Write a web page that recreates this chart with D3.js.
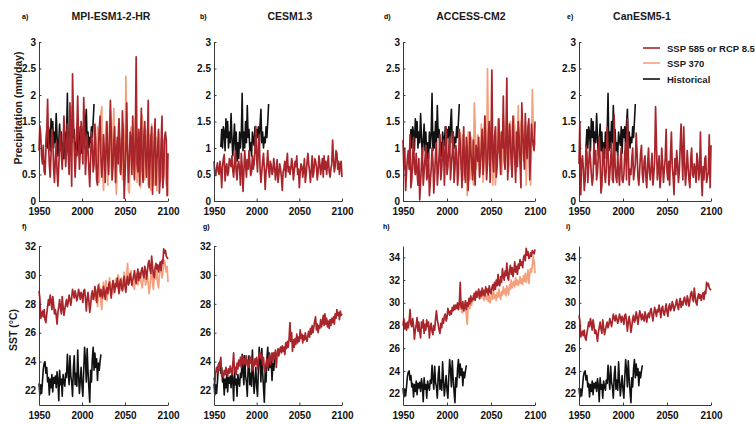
<!DOCTYPE html>
<html>
<head>
<meta charset="utf-8">
<script src="https://cdn.jsdelivr.net/npm/d3@7"></script>
<style>
  body { margin: 0; background: #fff; }
  svg { font-family: "Liberation Sans", Arial, sans-serif; }
  .axis path, .axis line { stroke: #3a3a3a; }
  .axis text { font-size: 10px; font-weight: bold; fill: #111; }
</style>
</head>
<body>
<div id="chart"></div>
<script>
'use strict';

// ---------- DATA ----------
var years = [1950, 2100];
var xTicks = [1950, 2000, 2050, 2100];
var precipTicks = [0, 0.5, 1, 1.5, 2, 2.5, 3];
var sstTicksLow = [22, 24, 26, 28, 30, 32];
var sstTicksHigh = [22, 24, 26, 28, 30, 32, 34];

var models = ['MPI-ESM1-2-HR', 'CESM1.3', 'ACCESS-CM2', 'CanESM5-1'];
var topLetters = ['a)', 'b)', 'd)', 'e)'];
var bottomLetters = ['f)', 'g)', 'h)', 'i)'];
var legendLabels = ['SSP 585 or RCP 8.5', 'SSP 370', 'Historical'];

// observed precipitation, 1958-2014
var precipObsStart = 1958;
var precipObs = [
  1.02,1.35,1.00,1.40,1.30,0.95,1.55,1.20,1.50,1.00,
  1.30,1.10,1.65,1.20,0.85,1.15,1.45,0.95,1.30,0.75,
  1.10,0.80,1.30,1.00,1.25,2.03,0.95,1.30,1.00,1.50,
  1.10,1.80,1.20,1.35,0.95,1.10,0.85,1.30,1.15,1.05,
  1.40,0.90,1.35,1.20,1.40,1.00,1.45,1.73,1.10,1.30,
  1.00,1.20,1.10,1.40,1.20,1.50,1.83
];

// observed SST, 1950-2022
var sstObsStart = 1950;
var sstObs = [
  22.5,21.7,22.4,21.8,22.6,23.5,23.9,24.0,23.2,23.6,
  22.6,22.9,21.7,22.8,22.2,23.1,21.9,22.9,22.5,23.0,
  22.2,23.3,22.7,21.3,23.4,22.4,22.8,21.6,23.1,22.6,
  22.3,23.2,22.9,24.5,23.3,22.4,24.4,23.0,22.6,21.6,
  23.6,24.4,22.4,23.2,22.3,24.8,23.1,21.8,22.7,23.6,
  22.3,21.6,23.4,25.0,24.1,22.6,24.9,23.3,22.2,21.2,
  23.4,22.6,24.2,25.0,23.4,24.6,23.6,24.2,22.7,23.9,
  23.4,24.0,24.5
];

// model runs: high emission 1950-2100, SSP370 2015-2100
var runStart = 1950;
var sspStart = 2015;

var precipMpi85 = [
  0.95,1.42,1.25,0.85,0.70,1.05,0.55,0.50,0.95,1.30,
  1.92,1.10,0.70,0.45,0.90,1.35,1.20,0.60,0.35,0.80,
  1.10,0.55,0.28,0.65,1.15,1.30,0.85,0.60,1.05,1.60,
  1.20,0.65,0.95,1.45,0.90,0.50,1.85,1.10,0.28,2.40,
  1.60,0.95,0.45,0.85,1.35,1.98,1.10,0.60,0.95,1.50,
  1.20,0.70,1.95,1.40,0.50,0.85,1.25,0.95,0.60,0.27,
  0.80,1.30,1.10,0.55,0.70,1.45,1.05,0.40,0.30,0.90,
  1.35,1.60,0.85,0.45,0.70,1.25,0.90,0.35,1.00,1.50,
  0.80,0.50,1.10,1.90,1.30,0.40,0.65,1.15,1.40,0.35,
  0.90,1.20,0.70,1.55,1.10,0.50,0.80,1.70,1.25,0.05,
  0.45,1.00,1.85,0.95,0.35,0.75,1.30,1.15,0.50,1.60,
  0.85,0.40,1.20,2.72,0.70,0.55,1.35,0.30,1.10,1.75,
  0.60,0.35,1.25,1.50,0.80,0.45,1.05,1.90,0.25,0.70,
  1.15,1.40,0.13,0.60,1.20,1.55,0.30,0.75,1.00,1.35,
  0.15,0.45,1.10,1.60,0.25,0.50,1.20,1.30,1.15,0.10,
  0.90
];
var precipMpi370 = [
  1.10,0.60,0.85,1.40,1.20,0.35,0.75,1.65,1.78,0.50,
  0.20,0.70,1.05,1.50,1.20,0.30,0.85,1.45,1.70,0.60,
  0.40,1.30,1.75,1.00,0.45,0.12,0.80,1.35,1.55,0.55,
  0.90,1.20,0.40,1.45,1.10,0.50,2.35,1.30,0.70,0.20,
  0.15,1.05,1.40,0.60,1.25,0.80,0.45,1.55,1.00,0.35,
  0.55,1.30,1.15,0.25,1.50,1.62,1.20,0.70,0.40,1.35,
  1.10,0.65,0.30,0.80,1.25,0.20,1.45,1.05,0.55,0.30,
  0.95,1.20,0.20,0.60,1.30,1.10,0.35,0.50,0.85,0.25,
  1.15,0.95,0.45,0.30,0.80,0.10
];
var precipCesm85 = [
  0.75,0.50,0.48,0.62,0.72,0.55,0.50,0.75,0.60,0.25,
  0.65,0.80,0.88,0.38,0.62,0.70,0.48,0.55,0.80,0.75,
  0.65,0.85,0.58,0.45,0.70,0.95,0.55,0.40,0.68,0.75,
  0.60,0.30,0.90,0.65,0.18,0.55,0.95,0.70,0.45,0.78,
  0.60,0.95,0.72,0.48,0.55,0.85,0.60,0.70,1.00,1.41,
  0.80,0.55,1.05,1.25,0.60,0.35,0.55,0.75,0.90,0.60,
  0.22,0.55,0.70,0.95,0.60,0.45,0.75,0.68,0.50,0.55,
  0.80,0.65,0.40,0.55,0.78,0.35,0.50,0.70,0.60,0.45,
  0.20,0.55,0.62,0.75,0.45,0.70,0.90,0.55,0.65,0.50,
  0.60,0.80,0.70,0.40,0.55,0.75,0.65,0.85,0.50,0.60,
  0.25,0.55,0.70,0.65,0.45,0.60,0.80,0.35,0.50,0.72,
  0.90,0.70,0.55,0.35,0.60,0.85,0.45,0.55,0.80,0.75,
  0.65,0.40,0.55,0.85,0.70,0.50,0.65,0.80,0.45,0.85,
  0.60,0.75,0.50,0.70,0.85,0.55,0.45,0.60,0.70,1.15,
  0.80,0.55,0.65,0.95,0.90,0.60,0.75,0.50,0.70,0.75,
  0.45
];
var precipAccess85 = [
  1.15,0.60,1.00,0.20,0.55,0.80,0.95,0.60,1.25,0.25,
  0.40,0.80,1.20,0.60,0.50,0.90,0.55,0.30,0.80,0.02,
  0.35,0.70,1.00,0.30,0.55,0.80,1.05,0.40,0.50,0.90,
  0.10,0.35,0.60,1.00,0.75,0.15,0.50,0.90,1.10,0.30,
  0.55,0.85,1.25,0.40,0.60,0.95,1.15,0.30,0.80,1.40,
  0.50,0.65,1.00,1.20,0.40,0.70,0.90,1.30,0.35,0.60,
  1.05,0.90,0.30,0.50,1.35,1.10,0.70,0.25,0.95,1.40,
  0.55,0.35,1.20,1.00,0.20,0.60,1.30,0.95,0.70,0.40,
  1.15,0.60,0.30,1.05,0.95,0.75,1.20,0.45,0.70,1.00,
  1.35,0.50,0.85,1.60,1.10,0.40,0.70,1.25,1.50,0.35,
  1.05,2.47,0.80,0.55,1.20,1.40,0.45,0.65,1.10,1.55,
  0.85,0.50,1.30,1.00,1.98,0.75,0.60,1.25,2.32,0.40,
  0.90,1.45,1.20,0.70,0.45,1.60,1.10,0.80,0.35,1.30,
  0.65,1.50,1.20,0.75,0.25,1.85,1.35,0.95,0.60,1.65,
  1.10,0.80,1.40,1.55,0.40,0.90,1.45,1.20,1.05,0.95,
  1.50
];
var precipAccess370 = [
  1.30,0.60,1.10,1.25,0.40,0.70,1.00,0.85,0.10,1.30,
  1.10,0.40,0.65,1.20,0.95,0.30,1.85,1.40,0.60,0.75,
  1.25,1.05,0.50,0.80,1.45,1.20,0.35,0.70,1.60,1.10,
  0.55,2.50,1.35,0.80,0.55,1.20,1.45,0.30,0.65,1.05,
  0.30,0.70,1.25,1.55,0.90,1.30,1.15,0.50,0.85,1.60,
  1.35,0.60,0.95,1.70,1.25,0.55,0.80,1.50,1.30,0.45,
  0.90,1.60,1.40,0.70,0.55,1.25,1.80,0.85,0.65,1.45,
  1.55,0.95,0.75,1.35,1.50,0.30,0.90,1.25,1.45,0.60,
  0.30,1.00,2.10,1.40,1.20,1.05
];
var precipCan85 = [
  0.70,1.50,0.12,0.70,0.85,0.60,0.20,0.40,1.05,0.90,
  0.35,0.65,1.00,0.80,0.50,0.30,0.45,1.10,0.70,0.95,
  0.40,0.55,0.85,1.20,0.75,0.15,0.30,0.90,1.00,0.55,
  0.35,0.60,1.40,0.95,0.30,0.50,0.80,1.10,0.40,0.35,
  1.62,0.70,0.45,0.35,0.90,0.55,0.30,0.75,1.00,0.40,
  0.35,0.50,0.90,1.10,0.40,1.55,0.95,0.30,0.60,0.50,
  0.80,1.00,0.40,0.55,0.70,1.28,0.90,0.45,0.30,0.60,
  0.90,1.05,0.50,0.35,0.75,0.85,0.45,0.25,0.70,1.00,
  0.55,0.40,0.65,0.90,0.30,0.50,0.75,1.78,1.10,0.40,
  0.60,0.85,0.25,0.45,1.00,0.70,0.35,0.60,0.80,1.35,
  0.55,0.40,0.75,0.30,0.90,1.30,0.65,0.45,0.12,0.80,
  0.50,0.95,0.70,0.35,0.55,1.05,1.45,0.85,0.40,1.40,
  0.75,0.30,0.55,0.95,0.65,0.40,0.25,0.80,1.00,0.50,
  0.45,0.70,0.60,0.35,0.90,0.75,0.40,0.55,1.30,0.50,
  0.10,0.65,0.40,0.80,0.85,0.35,0.45,0.55,1.25,0.25,
  1.05
];

var sstMpi85 = [
  28.9,28.4,27.0,27.2,27.5,27.1,27.6,26.9,26.7,27.3,
  27.8,28.3,27.9,28.6,28.2,27.6,28.5,28.0,27.3,27.6,
  27.2,26.6,27.4,27.8,28.3,27.7,27.3,28.5,27.8,27.2,
  27.6,28.0,28.3,27.8,28.1,28.6,28.3,27.9,28.4,29.0,
  28.7,28.4,28.9,28.6,28.2,28.5,29.0,28.7,28.3,28.8,
  28.6,28.1,28.9,29.0,28.4,27.5,28.3,28.8,28.2,27.4,
  27.9,28.6,28.9,28.3,28.5,29.2,28.8,28.1,28.7,29.3,
  28.9,28.5,29.0,28.6,28.4,29.2,28.8,28.3,28.9,29.1,
  28.7,29.3,29.5,28.9,28.4,29.1,29.6,29.2,28.8,29.4,
  29.2,29.8,29.3,28.7,29.5,29.7,29.1,28.9,29.4,29.9,
  29.2,28.8,29.6,29.9,29.3,29.5,30.1,29.8,29.3,29.6,
  29.9,30.3,29.7,29.4,30.0,30.4,29.6,30.1,29.8,30.3,
  30.5,30.0,29.8,30.6,30.3,29.7,30.2,30.8,31.0,30.4,
  30.1,31.3,30.6,30.0,29.8,30.5,30.8,30.4,30.7,30.2,
  30.6,30.9,30.3,31.0,30.8,31.8,31.5,31.7,31.3,31.2,
  31.1
];
var sstMpi370 = [
  28.2,29.0,28.6,27.8,28.4,29.4,28.9,28.1,27.6,28.9,
  29.5,28.7,29.0,29.6,28.2,28.7,29.2,29.8,28.9,28.6,
  29.3,29.5,28.7,29.0,29.7,29.4,29.1,30.0,29.6,28.9,
  29.2,29.8,29.3,29.0,30.2,29.5,29.1,30.0,30.8,29.6,
  29.4,29.9,30.3,29.7,29.2,29.4,29.0,29.8,30.1,29.5,
  29.3,29.7,30.2,29.9,29.4,29.1,29.6,30.0,29.8,29.3,
  29.6,30.1,29.4,28.7,29.2,29.9,30.3,29.5,29.0,29.8,
  30.2,29.7,30.4,29.4,29.1,30.0,30.6,30.3,29.8,30.1,
  30.8,31.0,30.5,30.2,30.6,29.5
];
var sstCesm85 = [
  22.9,22.5,23.2,23.6,23.3,23.8,23.4,23.9,24.3,23.0,
  23.2,22.9,23.4,23.1,23.6,23.3,23.0,23.5,23.2,23.7,
  23.4,23.1,23.8,24.6,23.3,23.6,23.1,23.9,23.5,24.1,
  23.7,24.3,23.6,24.0,24.4,23.8,24.2,23.9,24.4,23.7,
  24.1,23.6,24.3,23.9,24.4,23.4,24.0,23.7,24.2,23.8,
  24.3,23.5,24.0,24.5,24.6,24.2,24.5,23.8,24.3,23.5,
  23.3,23.9,24.2,23.6,24.1,24.5,23.8,24.2,24.6,24.0,
  24.6,24.2,24.8,23.6,24.5,24.9,24.4,24.8,25.0,24.6,
  25.1,24.7,25.0,24.5,25.3,24.9,25.4,25.0,25.6,26.7,
  25.4,26.0,24.7,25.5,25.0,25.6,25.2,25.9,25.3,25.7,
  25.4,26.2,25.6,25.9,25.3,25.8,25.5,26.0,25.6,25.4,
  25.8,26.1,25.7,26.3,25.9,26.5,26.0,26.4,26.8,27.1,
  26.2,26.6,26.0,26.5,26.3,26.9,26.4,26.7,27.2,26.5,
  27.3,26.6,27.0,26.4,26.8,26.3,26.9,26.5,27.0,26.7,
  27.1,26.6,27.3,27.0,27.6,27.2,27.4,26.9,27.5,27.2,
  27.3
];
var sstAccess85 = [
  28.0,28.6,27.7,28.2,27.6,28.3,27.8,28.4,29.4,28.1,
  27.9,28.6,28.0,26.8,27.6,28.0,28.7,27.5,28.3,27.4,
  26.9,28.3,27.8,28.5,27.3,28.1,27.6,28.5,27.9,28.3,
  26.9,27.8,28.2,27.5,27.2,28.0,27.6,28.6,29.3,28.5,
  28.1,27.6,27.3,28.2,27.8,28.6,28.2,28.8,29.0,28.4,
  28.7,29.5,29.2,28.9,29.3,29.0,29.6,29.3,29.8,29.4,
  29.8,29.5,30.0,29.4,29.9,31.8,29.6,29.5,30.1,29.3,
  29.6,30.2,29.4,30.0,29.7,30.4,29.9,30.6,30.1,30.4,
  30.3,30.8,30.2,31.0,30.5,30.8,31.2,30.4,31.0,30.6,
  31.3,30.7,31.1,30.6,31.4,30.9,31.2,30.7,31.5,31.0,
  30.8,31.3,31.6,31.1,31.8,31.2,32.0,31.5,32.5,31.6,
  31.5,32.3,31.8,33.0,32.4,32.0,32.8,32.4,33.5,32.2,
  32.0,32.9,33.3,32.5,33.1,32.3,32.8,33.6,32.7,33.2,
  32.5,33.4,33.0,33.8,33.3,33.6,33.1,34.0,34.2,33.7,
  34.8,34.2,34.5,33.9,34.0,34.4,34.1,34.6,34.5,34.3,
  34.7
];
var sstAccess370 = [
  29.4,29.8,29.1,29.6,29.2,29.9,30.1,28.8,28.1,29.6,
  30.0,29.5,30.3,29.8,30.6,30.2,30.9,30.4,30.7,31.0,
  30.5,30.8,30.3,30.9,30.4,31.1,30.6,30.2,30.8,30.5,
  30.3,30.8,30.1,30.6,30.0,30.5,30.9,30.3,31.0,30.4,
  30.7,30.2,30.9,30.5,31.2,30.6,30.3,31.0,30.7,31.4,
  30.8,31.2,30.6,31.5,31.0,30.7,31.6,31.2,32.0,31.3,
  31.7,31.9,31.4,32.2,31.6,32.0,31.5,31.8,32.3,31.7,
  32.1,31.6,32.4,31.9,32.6,31.8,32.3,32.9,31.7,32.5,
  33.0,32.7,33.3,34.1,33.6,32.6
];
// CanESM5-1 SST run reads the same as the MPI one in the figure
var sstCan85 = sstMpi85;

// ---------- PANEL SETUP ----------
var colors = { ssp585: '#a8262b', ssp370: '#f4a07c', hist: '#111111' };

var colX = [[39, 168], [214, 342], [403, 535], [579, 711]];
var titleX = [111, 290, 471, 642];
var topLetterX = [22, 200, 384, 567];
var bottomLetterX = [22, 203, 383, 566];

var topPanels = [
  { r85: precipMpi85, r370: precipMpi370 },
  { r85: precipCesm85, r370: null },
  { r85: precipAccess85, r370: precipAccess370 },
  { r85: precipCan85, r370: null }
];
var bottomPanels = [
  { r85: sstMpi85, r370: sstMpi370, dom: [21, 32], ticks: sstTicksLow },
  { r85: sstCesm85, r370: null, dom: [21, 32], ticks: sstTicksLow },
  { r85: sstAccess85, r370: sstAccess370, dom: [21, 35], ticks: sstTicksHigh },
  { r85: sstCan85, r370: null, dom: [21, 35], ticks: sstTicksHigh }
];

var svg = d3.select('#chart').append('svg')
  .attr('width', 756)
  .attr('height', 424);

function toPoints(values, start) {
  return values.map(function(v, i){ return { year: start + i, v: v }; });
}

function drawPanel(col, top, bottom, domain, ticks, tickFmt, series) {
  var x = d3.scaleLinear().domain(years).range(colX[col]);
  var y = d3.scaleLinear().domain(domain).range([bottom, top]);
  var g = svg.append('g');

  var line = d3.line()
    .x(function(d){ return x(d.year); })
    .y(function(d){ return y(d.v); });

  series.forEach(function(s){
    if (!s.values) return;
    g.append('path')
      .datum(toPoints(s.values, s.start))
      .attr('fill', 'none')
      .attr('stroke', s.color)
      .attr('stroke-width', s.width)
      .attr('stroke-linejoin', 'round')
      .attr('d', line);
  });

  var xAxis = d3.axisBottom(x).tickValues(xTicks).tickFormat(d3.format('d'))
    .tickSizeInner(-2.5).tickSizeOuter(0).tickPadding(7);
  var yAxis = d3.axisLeft(y).tickValues(ticks).tickFormat(tickFmt)
    .tickSizeInner(-2.5).tickSizeOuter(0).tickPadding(3);

  g.append('g')
    .attr('class', 'axis')
    .attr('transform', 'translate(0,' + bottom + ')')
    .call(xAxis);
  g.append('g')
    .attr('class', 'axis')
    .attr('transform', 'translate(' + colX[col][0] + ',0)')
    .call(yAxis);
}

var precipFmt = function(d){ return d3.format('')(d); };

topPanels.forEach(function(p, i){
  drawPanel(i, 42, 201, [0, 3], precipTicks, precipFmt, [
    { values: p.r370, start: sspStart, color: colors.ssp370, width: 1.7 },
    { values: precipObs, start: precipObsStart, color: colors.hist, width: 1.6 },
    { values: p.r85, start: runStart, color: colors.ssp585, width: 1.7 }
  ]);
});

bottomPanels.forEach(function(p, i){
  drawPanel(i, 246, 405, p.dom, p.ticks, d3.format('d'), [
    { values: sstObs, start: sstObsStart, color: colors.hist, width: 1.6 },
    { values: p.r370, start: sspStart, color: colors.ssp370, width: 1.7 },
    { values: p.r85, start: runStart, color: colors.ssp585, width: 1.7 }
  ]);
});

// ---------- TEXT ----------
models.forEach(function(m, i){
  svg.append('text')
    .attr('x', titleX[i]).attr('y', 20)
    .attr('text-anchor', 'middle')
    .style('font-size', '10.5px').style('font-weight', 'bold')
    .attr('fill', '#1a1a1a')
    .text(m);
  svg.append('text')
    .attr('x', topLetterX[i]).attr('y', 19)
    .style('font-size', '7px').style('font-weight', 'bold')
    .text(topLetters[i]);
  svg.append('text')
    .attr('x', bottomLetterX[i]).attr('y', 229)
    .style('font-size', '7px').style('font-weight', 'bold')
    .text(bottomLetters[i]);
});

svg.append('text')
  .attr('transform', 'translate(22,108) rotate(-90)')
  .attr('text-anchor', 'middle')
  .style('font-size', '10.5px').style('font-weight', 'bold')
  .attr('fill', '#1a1a1a')
  .text('Precipitation (mm/day)');

svg.append('text')
  .attr('transform', 'translate(17,330) rotate(-90)')
  .attr('text-anchor', 'middle')
  .style('font-size', '10.5px').style('font-weight', 'bold')
  .attr('fill', '#1a1a1a')
  .text('SST (\u00B0C)');

// legend
var legendColors = [colors.ssp585, colors.ssp370, colors.hist];
var legendY = [48, 63, 79];
legendLabels.forEach(function(l, i){
  svg.append('line')
    .attr('x1', 643).attr('x2', 660)
    .attr('y1', legendY[i]).attr('y2', legendY[i])
    .attr('stroke', legendColors[i]).attr('stroke-width', 1.6);
  svg.append('text')
    .attr('x', 667).attr('y', legendY[i] + 3.5)
    .style('font-size', '9.5px').style('font-weight', 'bold')
    .attr('fill', '#1a1a1a')
    .text(l);
});
</script>
</body>
</html>
